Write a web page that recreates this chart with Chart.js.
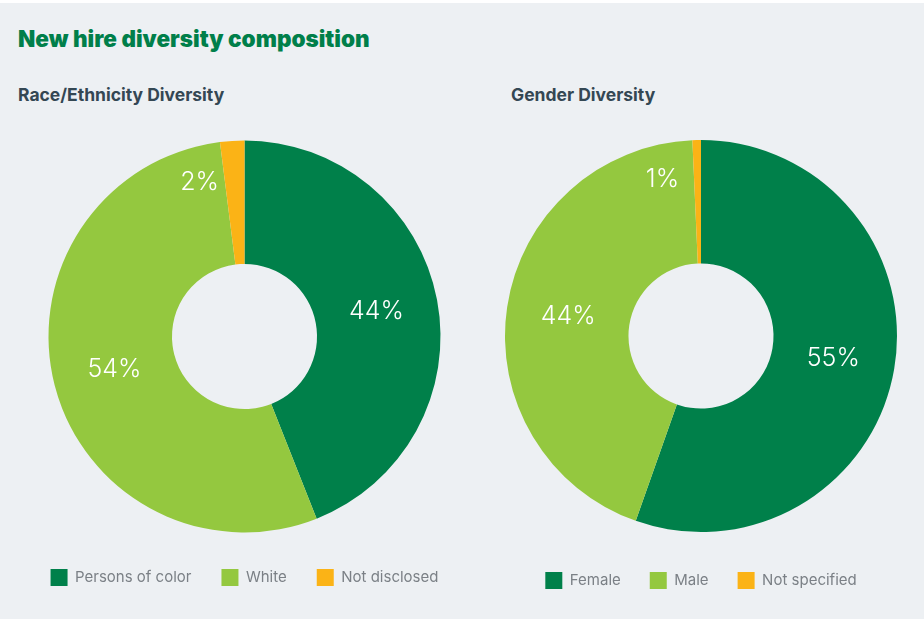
<!DOCTYPE html>
<html>
<head>
<meta charset="utf-8">
<script src="https://cdn.jsdelivr.net/npm/chart.js@4"></script>
<style>
  body { margin: 0; background: #edf0f3; font-family: Inter, "Noto Sans", sans-serif; }
  #page { position: relative; width: 924px; height: 619px; border-top: 3px solid #ffffff; box-sizing: border-box; overflow: hidden; }
  h1 { position: absolute; left: 18px; top: 21px; margin: 0; font-size: 22.5px; font-weight: 900; color: #007f4a; line-height: 30px; }
  h2 { position: absolute; margin: 0; font-size: 17.5px; font-weight: 700; color: #344753; top: 80px; line-height: 24px; }
  #sub1 { left: 18px; }
  #sub2 { left: 511px; }
  #c1 { position: absolute; left: 0; top: 131px; }
  #c2 { position: absolute; left: 501px; top: 126px; }
</style>
</head>
<body>
<div id="page">
  <h1>New hire diversity composition</h1>
  <h2 id="sub1">Race/Ethnicity Diversity</h2>
  <h2 id="sub2">Gender Diversity</h2>
  <canvas id="c1" width="489" height="462"></canvas>
  <canvas id="c2" width="400" height="470"></canvas>
</div>
<script>
// Datos
const raceLabels = ['Persons of color', 'White', 'Not disclosed'];
const raceValues = [44, 54, 2];
const genderLabels = ['Female', 'Male', 'Not specified'];
const genderValues = [55.4, 43.9, 0.7];
const sliceColors = ['#00804a', '#94c83f', '#fbb316'];

// Etiquetas de porcentaje dentro de cada porción
const percentLabels = {
    id: 'percentLabels',
    afterDatasetsDraw(chart) {
        const ctx = chart.ctx;
        const meta = chart.getDatasetMeta(0);
        const values = chart.data.datasets[0].data;
        ctx.save();
        ctx.font = '300 25px Inter, "Noto Sans", sans-serif';
        ctx.fillStyle = '#ffffff';
        ctx.textAlign = 'center';
        ctx.textBaseline = 'middle';
        meta.data.forEach((arc, i) => {
            let pos = arc.tooltipPosition();
            if (values[i] < 5) {
                // porciones pequeñas: etiqueta desplazada a la izquierda
                const mid = (arc.startAngle + arc.endAngle) / 2 - 0.22;
                const r = arc.outerRadius * 0.82;
                pos = { x: arc.x + Math.cos(mid) * r, y: arc.y + Math.sin(mid) * r };
            }
            ctx.fillText(Math.round(values[i]) + '%', pos.x, pos.y);
        });
        ctx.restore();
    }
};

function makeDoughnut(id, labels, values, legendPadding) {
    const ctx = document.getElementById(id).getContext('2d');
    return new Chart(ctx, {
        type: 'doughnut',
        data: {
            labels: labels,
            datasets: [{
                data: values,
                backgroundColor: sliceColors,
                borderWidth: 0
            }]
        },
        options: {
            responsive: false,
            animation: false,
            radius: 196,
            cutout: '37%',
            events: [],
            plugins: {
                tooltip: { enabled: false },
                legend: {
                    position: 'bottom',
                    labels: {
                        boxWidth: 17,
                        boxHeight: 17,
                        padding: legendPadding,
                        color: '#7b8086',
                        font: { family: 'Inter, "Noto Sans", sans-serif', size: 15, weight: '400' }
                    }
                }
            }
        },
        plugins: [percentLabels]
    });
}

makeDoughnut('c1', raceLabels, raceValues, 30);
makeDoughnut('c2', genderLabels, genderValues, 29);
</script>
</body>
</html>
